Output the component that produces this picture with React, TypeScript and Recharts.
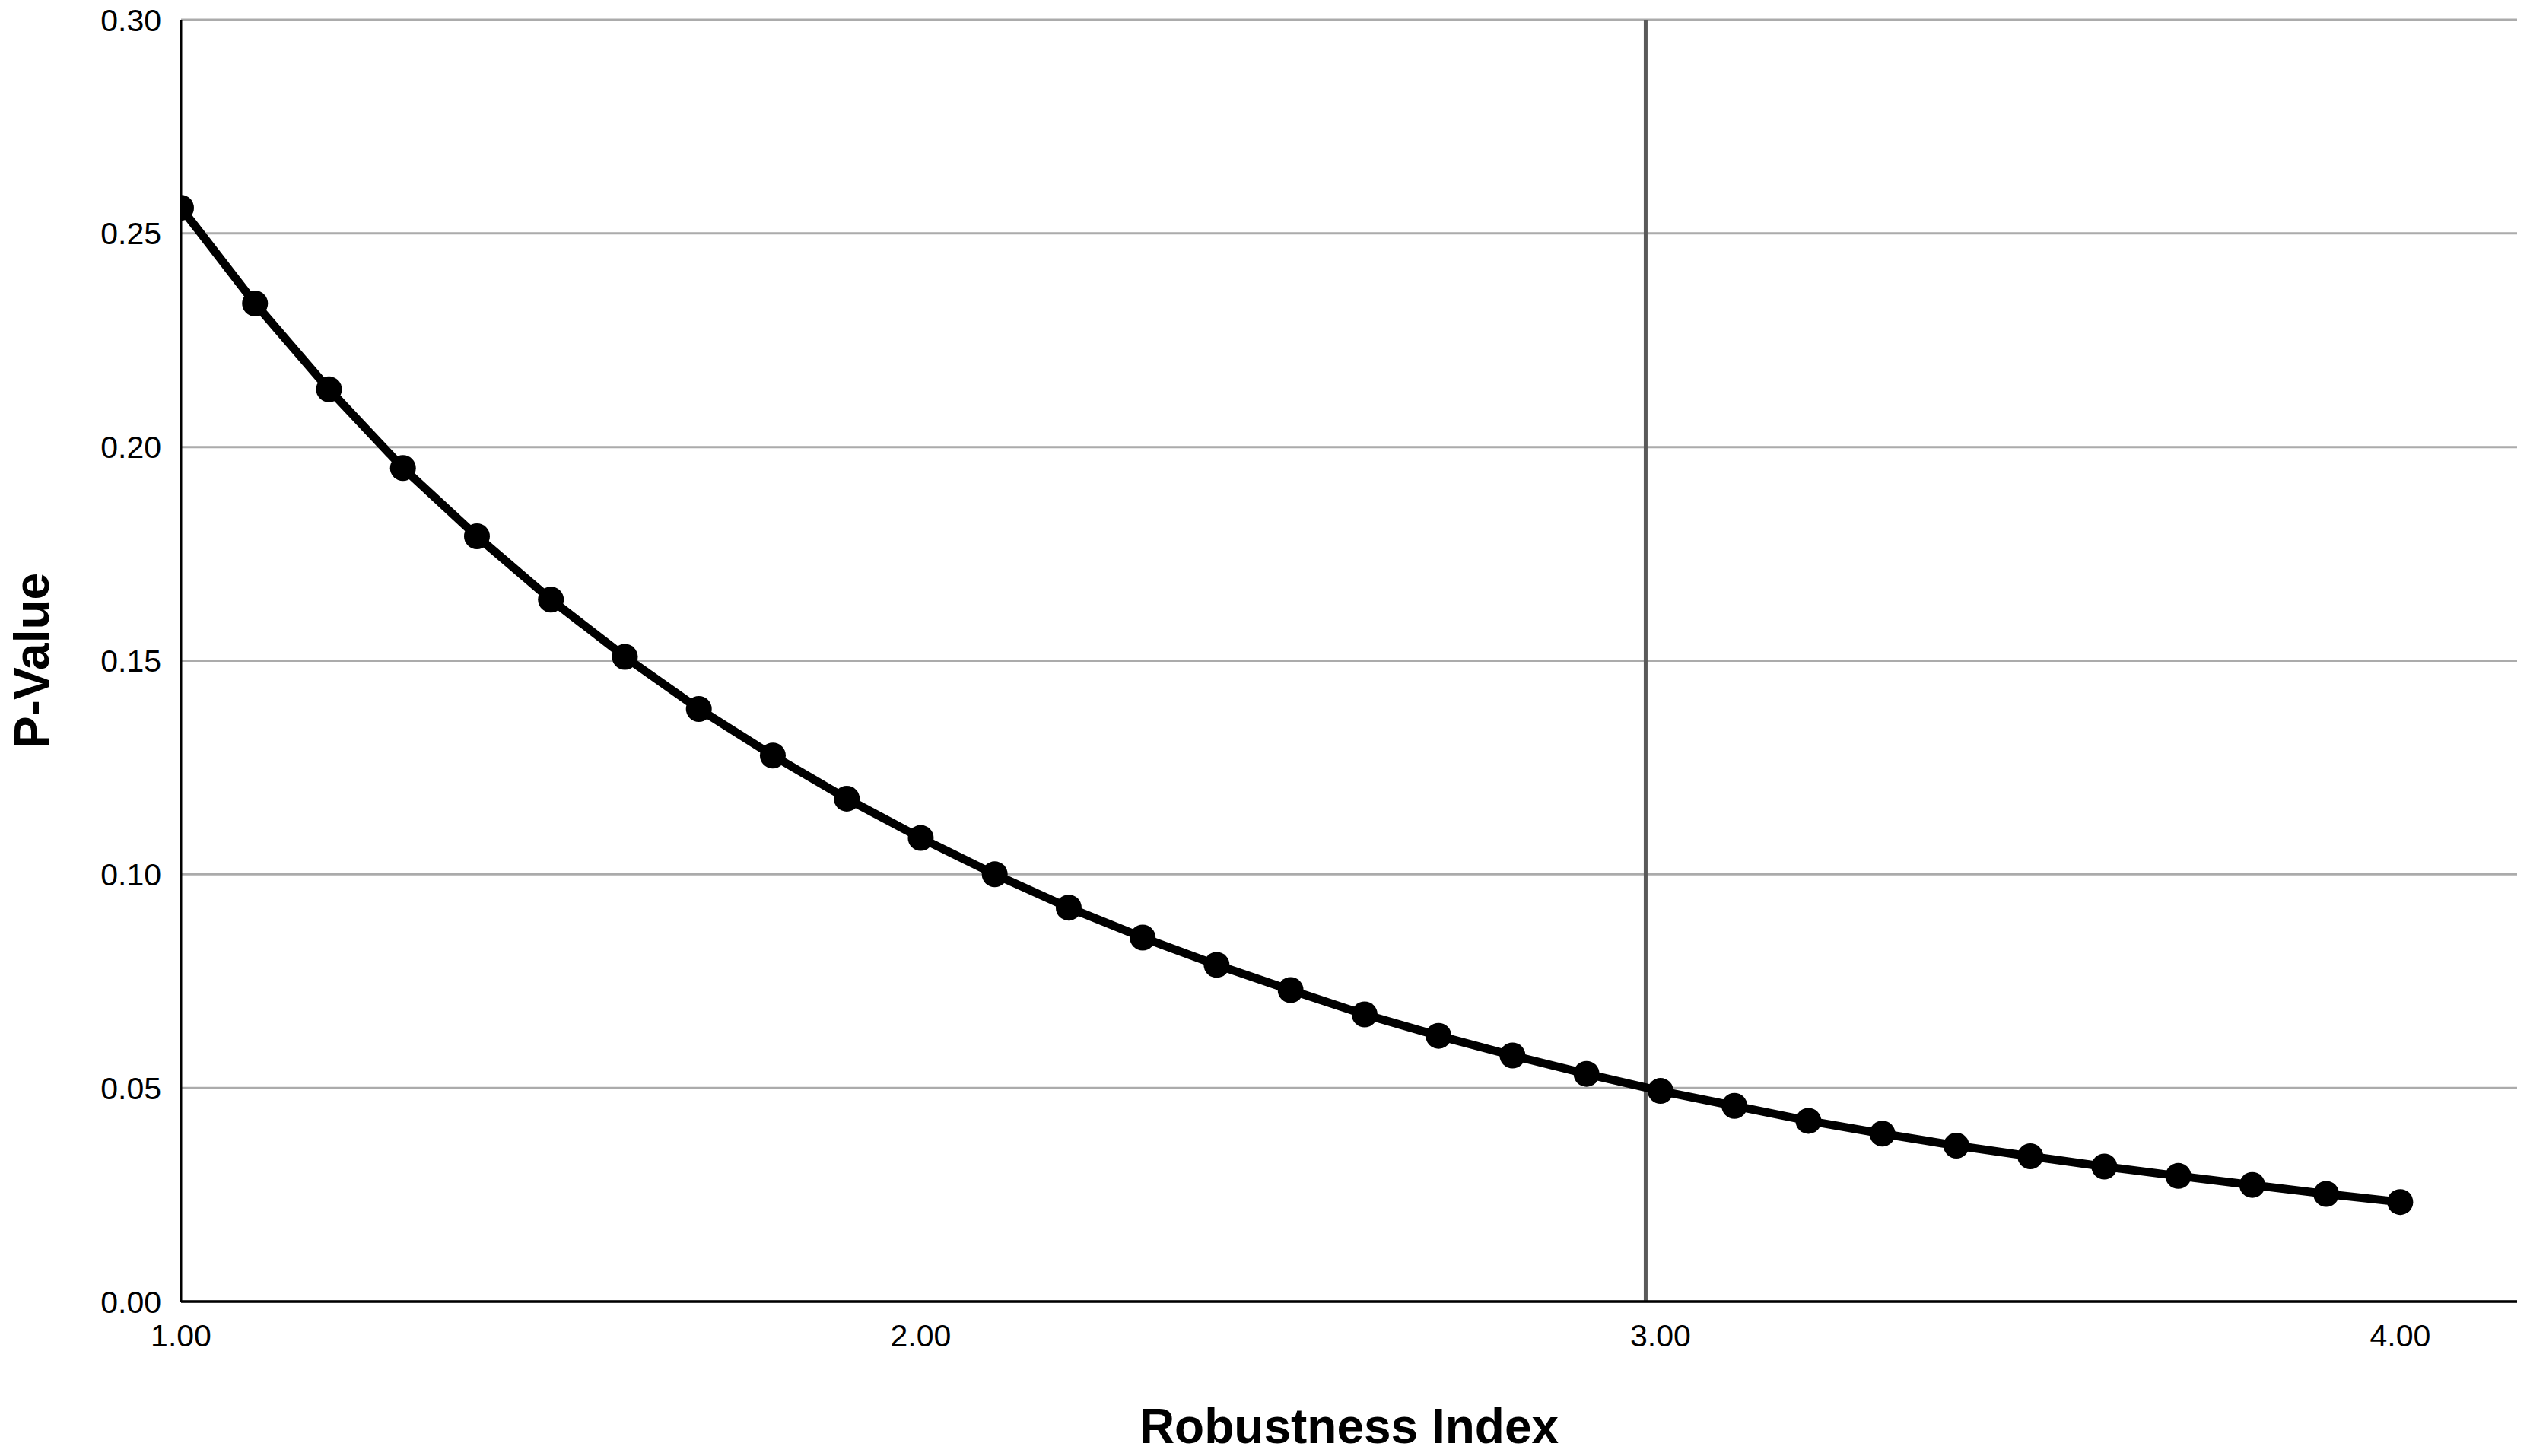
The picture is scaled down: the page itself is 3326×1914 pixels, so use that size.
import React from 'react';
import { LineChart, Line, XAxis, YAxis, CartesianGrid, ReferenceLine, Label } from 'recharts';

const robustnessIndex = [
  1.0, 1.1, 1.2, 1.3, 1.4, 1.5, 1.6, 1.7, 1.8, 1.9, 2.0,
  2.1, 2.2, 2.3, 2.4, 2.5, 2.6, 2.7, 2.8, 2.9, 3.0,
  3.1, 3.2, 3.3, 3.4, 3.5, 3.6, 3.7, 3.8, 3.9, 4.0,
];
const pValues = [
  0.2560, 0.2336, 0.2135, 0.1951, 0.1791, 0.1643, 0.1509, 0.1387, 0.1278, 0.1177, 0.1085,
  0.1000, 0.0922, 0.0852, 0.0788, 0.0729, 0.0672, 0.0622, 0.0576, 0.0533, 0.0493,
  0.0458, 0.0423, 0.0393, 0.0365, 0.0340, 0.0316, 0.0294, 0.0273, 0.0252, 0.0233,
];
const xTicks = [1, 2, 3, 4];
const yTicks = [0, 0.05, 0.1, 0.15, 0.2, 0.25, 0.3];
const xDomain = [1, 4.158];
const yDomain = [0, 0.3];
const referenceX = 2.98;

const data = robustnessIndex.map((x, i) => ({ x, p: pValues[i] }));

const FONT = '"Liberation Sans", Arial, sans-serif';

const XTitle = (props: any) => {
  const vb = props.viewBox || {};
  return (
    <text
      x={vb.x + vb.width / 2}
      y={vb.y + vb.height - 17}
      textAnchor="middle"
      fontFamily={FONT}
      fontWeight="bold"
      fontSize={64}
      fill="#000"
    >
      Robustness Index
    </text>
  );
};

const YTitle = (props: any) => {
  const vb = props.viewBox || {};
  const cx = vb.x + 64;
  const cy = vb.y + vb.height / 2;
  return (
    <text
      x={cx}
      y={cy}
      transform={`rotate(-90, ${cx}, ${cy})`}
      textAnchor="middle"
      fontFamily={FONT}
      fontWeight="bold"
      fontSize={64}
      fill="#000"
    >
      P-Value
    </text>
  );
};

export default function App() {
  return (
    <div style={{ background: '#fff', margin: -8, width: 3326, height: 1914 }}>
      <LineChart
        width={3326}
        height={1914}
        data={data}
        margin={{ top: 26, right: 17, bottom: 0, left: 0 }}
      >
        <CartesianGrid horizontal vertical={false} stroke="#ababab" strokeWidth={3} />
        <XAxis
          type="number"
          dataKey="x"
          domain={xDomain}
          ticks={xTicks}
          allowDataOverflow
          tickFormatter={(v: number) => v.toFixed(2)}
          tickLine={false}
          tickSize={0}
          tickMargin={30}
          height={203}
          axisLine={{ stroke: '#000', strokeWidth: 3.5 }}
          tick={{ fill: '#000', fontSize: 41, fontFamily: FONT }}
        >
          <Label content={XTitle} />
        </XAxis>
        <YAxis
          type="number"
          domain={yDomain}
          ticks={yTicks}
          tickFormatter={(v: number) => v.toFixed(2)}
          tickLine={false}
          tickSize={0}
          tickMargin={26}
          width={238}
          axisLine={{ stroke: '#000', strokeWidth: 3 }}
          tick={{ fill: '#000', fontSize: 41, fontFamily: FONT }}
        >
          <Label content={YTitle} />
        </YAxis>
        <ReferenceLine x={referenceX} stroke="#5a5a5a" strokeWidth={5} />
        <Line
          type="linear"
          dataKey="p"
          stroke="#000"
          strokeWidth={11}
          dot={{ r: 17, fill: '#000', stroke: 'none' }}
          activeDot={false}
          isAnimationActive={false}
        />
      </LineChart>
    </div>
  );
}
